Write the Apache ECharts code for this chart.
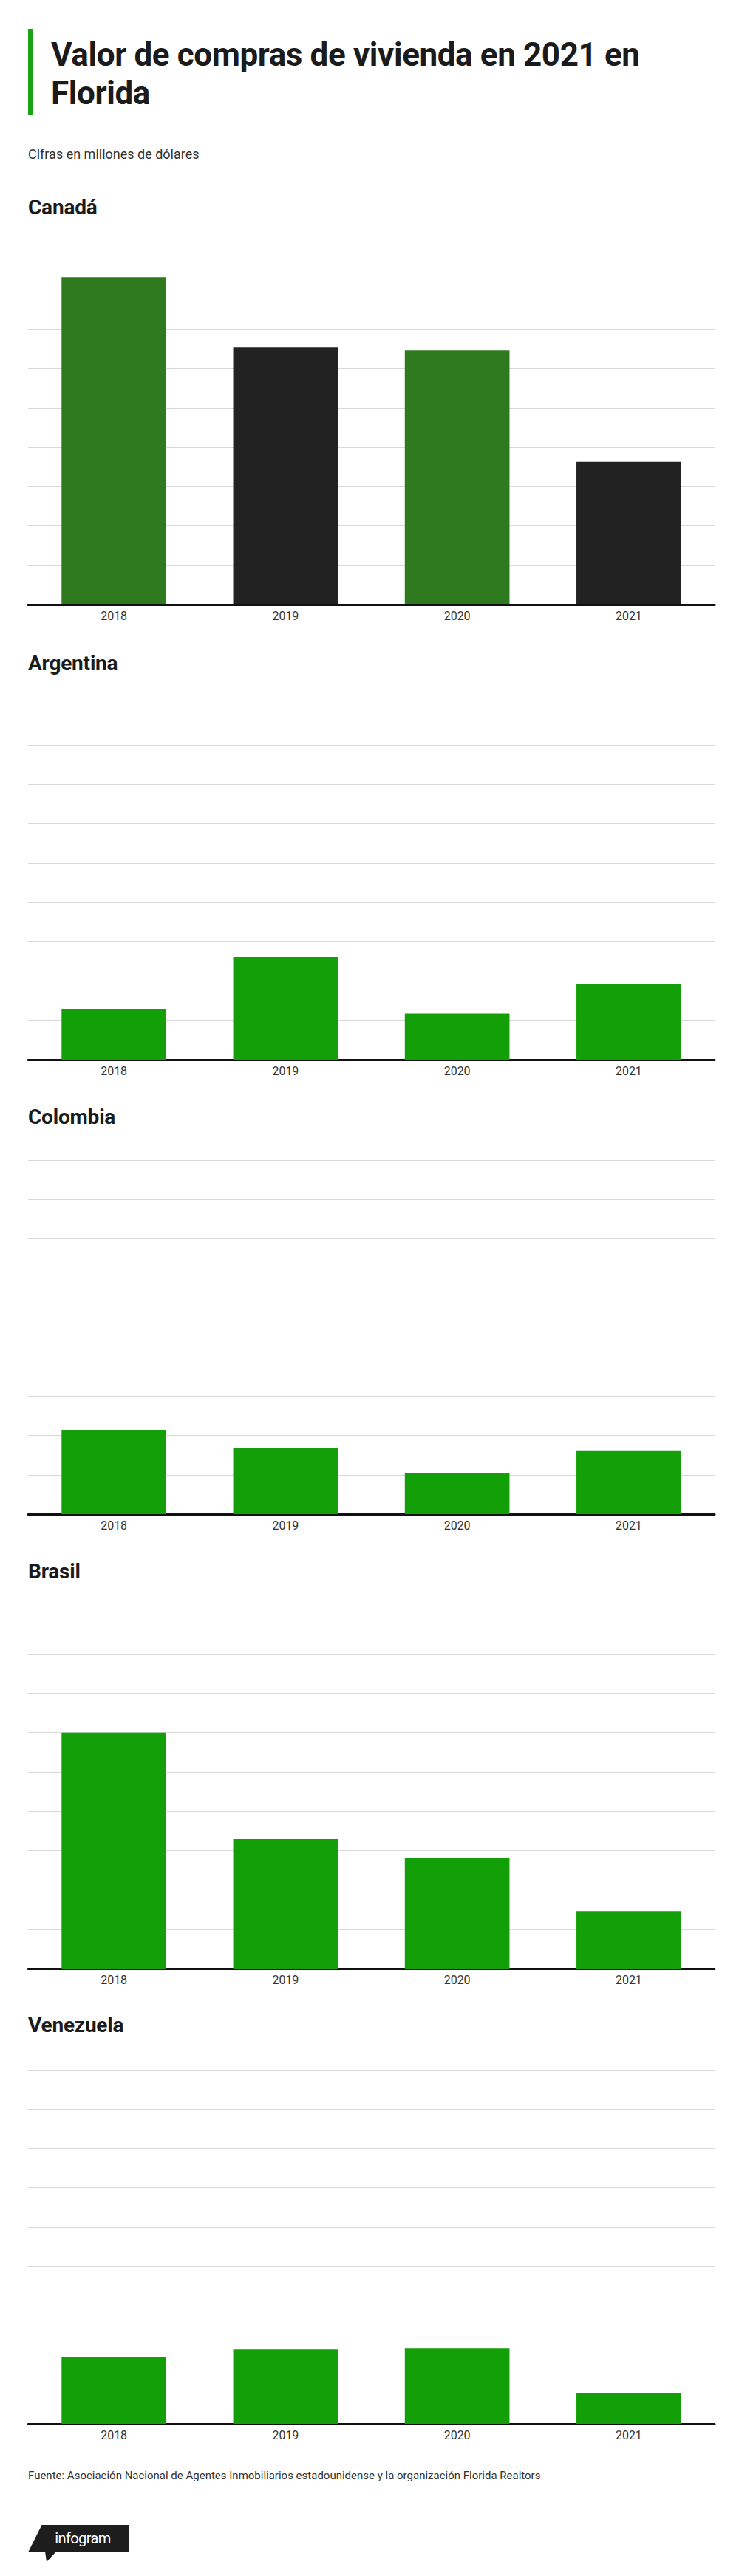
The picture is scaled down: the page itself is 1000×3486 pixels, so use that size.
<!DOCTYPE html>
<html>
<head>
<meta charset="utf-8">
<script src="https://cdn.jsdelivr.net/npm/echarts@6/dist/echarts.min.js"></script>
<style>
  html, body { margin: 0; padding: 0; background: #fff; }
  #page { position: relative; width: 1000px; height: 3486px; font-family: Roboto, "Noto Sans", sans-serif; color: #1b1b1b; }
  #chart { position: absolute; left: 0; top: 0; width: 1000px; height: 3486px; }
  .abs { position: absolute; white-space: nowrap; }
  .bar-accent { left: 38px; top: 39px; width: 6px; height: 117px; background: #1aa314; }
  .main-title { left: 69px; top: 48px; font-size: 44px; line-height: 52px; font-weight: 700; letter-spacing: -0.4px; }
  .subtitle { left: 38px; top: 198px; font-size: 18px; line-height: 22px; color: #333; }
  .country { left: 38px; font-size: 28px; line-height: 32px; font-weight: 700; letter-spacing: -0.2px; }
  .source { left: 38px; top: 3341px; font-size: 15px; line-height: 18px; color: #333; }
  .logo { left: 38px; top: 3417px; }
</style>
</head>
<body>
<div id="page">
  <div id="chart"></div>
  <div class="abs bar-accent"></div>
  <div class="abs main-title">Valor de compras de vivienda en 2021 en<br>Florida</div>
  <div class="abs subtitle">Cifras en millones de dólares</div>
  <div id="countries"></div>
  <div class="abs source">Fuente: Asociación Nacional de Agentes Inmobiliarios estadounidense y la organización Florida Realtors</div>
  <svg class="abs logo" width="140" height="52" viewBox="0 0 140 52">
    <polygon points="18.5,0 136.5,0 136.5,37 0,37" fill="#1d1d1d"/>
    <polygon points="23,36 25,50 38,36" fill="#1d1d1d"/>
    <text x="74" y="25" text-anchor="middle" fill="#fff" font-family="Roboto, sans-serif" font-size="20" letter-spacing="-0.6">infogram</text>
  </svg>
</div>
<script>
// categorias y valores (millones de dolares)
var years = ['2018', '2019', '2020', '2021'];
var countries = ['Canadá', 'Argentina', 'Colombia', 'Brasil', 'Venezuela'];
var canada = [2080, 1633, 1615, 908];
var argentina = [323, 653, 293, 483];
var colombia = [535, 423, 258, 405];
var brasil = [1500, 823, 705, 365];
var venezuela = [423, 473, 478, 195];
var yMax = 2250;
var yStep = 250;

var seriesData = [canada, argentina, colombia, brasil, venezuela];
var canadaColors = ['#2f7a1f', '#222222', '#2f7a1f', '#222222'];
var green = '#139f08';

// posicion de cada bloque
var gridTops = [339, 955, 1570, 2185, 2801];
var titleCenters = [281, 898, 1512, 2127, 2741];
var gridHeight = 479;

var box = document.getElementById('countries');
countries.forEach(function (name, i) {
    var d = document.createElement('div');
    d.className = 'abs country';
    d.style.top = (titleCenters[i] - 16) + 'px';
    d.textContent = name;
    box.appendChild(d);
});

var grids = [], xAxes = [], yAxes = [], series = [];
seriesData.forEach(function (vals, i) {
    grids.push({ left: 38, width: 929, top: gridTops[i], height: gridHeight });
    xAxes.push({
        type: 'category',
        gridIndex: i,
        data: years,
        axisLine: { lineStyle: { color: '#111', width: 3 } },
        axisTick: { show: false },
        axisLabel: { color: '#333', fontSize: 16, margin: 7, fontFamily: 'Roboto' }
    });
    yAxes.push({
        type: 'value',
        gridIndex: i,
        min: 0,
        max: yMax,
        interval: yStep,
        axisLine: { show: false },
        axisTick: { show: false },
        axisLabel: { show: false },
        splitLine: { lineStyle: { color: '#d9d9d9', width: 1 } }
    });
    series.push({
        type: 'bar',
        xAxisIndex: i,
        yAxisIndex: i,
        barWidth: '61%',
        z: 1,
        data: vals.map(function (v, j) {
            return { value: v, itemStyle: { color: i === 0 ? canadaColors[j] : green } };
        })
    });
});

var myChart = echarts.init(document.getElementById('chart'), null, { renderer: 'svg' });
myChart.setOption({
    animation: false,
    grid: grids,
    xAxis: xAxes,
    yAxis: yAxes,
    series: series
});
</script>
</body>
</html>
